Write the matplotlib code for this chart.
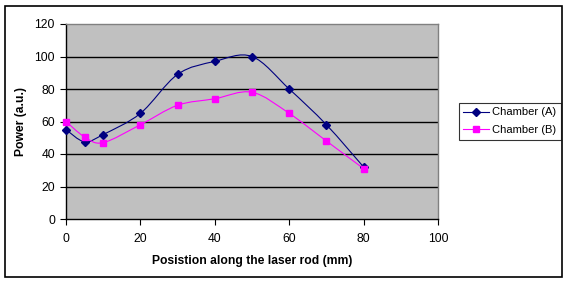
import matplotlib
matplotlib.use('Agg')
import matplotlib.pyplot as plt
from matplotlib.path import Path
from matplotlib.patches import PathPatch, Rectangle
from matplotlib.lines import Line2D
import numpy as np

plt.rcParams['font.family'] = ['Liberation Sans', 'DejaVu Sans']

# data
position = [0, 5, 10, 20, 30, 40, 50, 60, 70, 80]
chamber_a = [55, 47.5, 52, 65, 89, 97, 100, 80, 58, 32]
chamber_b = [60, 50.5, 47, 58, 70, 74, 78, 65, 48, 31]

x_ticks = [0, 20, 40, 60, 80, 100]
y_ticks = [0, 20, 40, 60, 80, 100, 120]


def smooth_path(x, y):
    # Excel-style smoothed line: cubic bezier segments through the points
    pts = np.column_stack([x, y]).astype(float)
    n = len(pts)
    verts = [pts[0]]
    codes = [Path.MOVETO]
    for i in range(n - 1):
        p0 = pts[i - 1] if i > 0 else pts[i]
        p1 = pts[i]
        p2 = pts[i + 1]
        p3 = pts[i + 2] if i + 2 < n else pts[i + 1]
        c1 = p1 + (p2 - p0) / 6.0
        c2 = p2 - (p3 - p1) / 6.0
        verts += [c1, c2, p2]
        codes += [Path.CURVE4] * 3
    return Path(verts, codes)


W, H = 569, 282
fig = plt.figure(figsize=(W / 100, H / 100), dpi=100)
fig.patch.set_facecolor('white')

# outer chart border
fig.patches.append(Rectangle((4.5 / W, 1 - 276.5 / H), (562 - 4.5) / W, (276.5 - 5.5) / H,
                             transform=fig.transFigure, fill=False, edgecolor='black', linewidth=1.2))

ax = fig.add_axes([66 / W, 1 - 219 / H, (438 - 66) / W, (219 - 24) / H])
ax.set_facecolor('#C0C0C0')
ax.set_xlim(0, 100)
ax.set_ylim(0, 120)
ax.set_xticks(x_ticks)
ax.set_yticks(y_ticks)
ax.tick_params(axis='both', direction='out', length=4, width=0.8, labelsize=8.7, pad=4)
ax.tick_params(axis='x', pad=6)

for v in y_ticks[1:-1]:
    ax.axhline(v, color='black', linewidth=1.0, zorder=1)

ax.spines['left'].set_color('black')
ax.spines['bottom'].set_color('black')
ax.spines['top'].set_color('#808080')
ax.spines['right'].set_color('#808080')
for s in ax.spines.values():
    s.set_linewidth(1.0)

series = [
    (chamber_a, '#000080', 'D', 4, 'Chamber (A)'),
    (chamber_b, '#FF00FF', 's', 5, 'Chamber (B)'),
]
handles = []
for vals, color, marker, ms, label in series:
    ax.add_patch(PathPatch(smooth_path(position, vals), facecolor='none',
                           edgecolor=color, linewidth=0.8, zorder=3))
    ax.plot(position, vals, linestyle='none', marker=marker, markersize=ms,
            color=color, zorder=4, clip_on=False)
    handles.append(Line2D([], [], color=color, linewidth=0.8, marker=marker,
                          markersize=ms, label=label))

ax.set_xlabel('Posistion along the laser rod (mm)', fontsize=8.7, fontweight='bold', labelpad=7)
ax.set_ylabel('Power (a.u.)', fontsize=8.7, fontweight='bold', labelpad=5)

leg = fig.legend(handles=handles, loc='upper left', bbox_to_anchor=(459 / W, 1 - 103 / H),
                 fontsize=8.0, frameon=True, fancybox=False, handlelength=2.3,
                 borderpad=0.4, labelspacing=0.7, handletextpad=0.3, borderaxespad=0)
leg.get_frame().set_edgecolor('black')
leg.get_frame().set_linewidth(0.8)

fig.savefig('out.png', dpi=100)
